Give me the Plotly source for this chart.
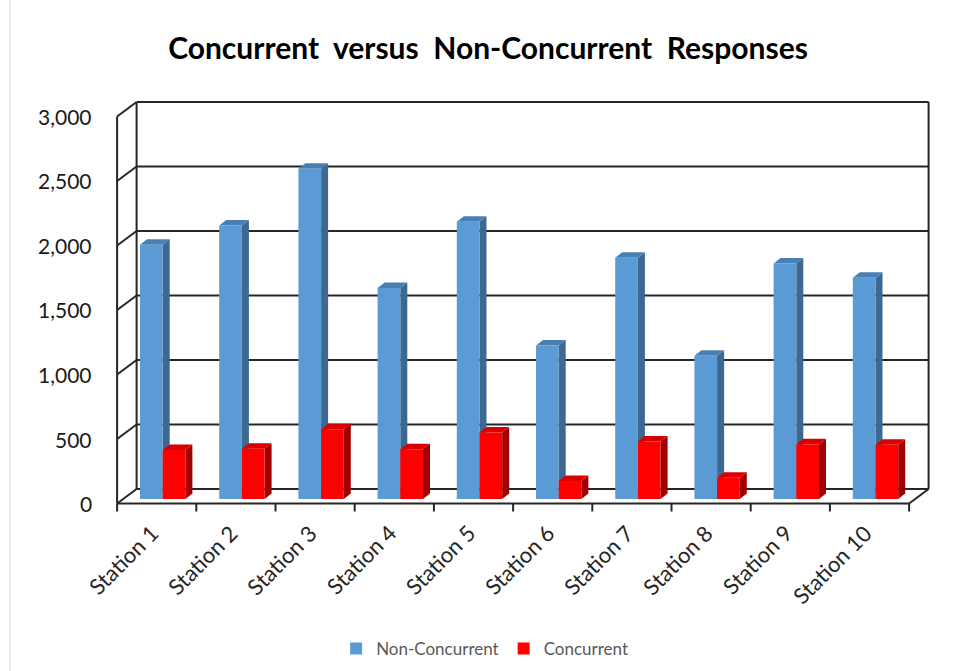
import plotly.graph_objects as go

# ---- data -------------------------------------------------------------
stations = ["Station 1", "Station 2", "Station 3", "Station 4", "Station 5",
            "Station 6", "Station 7", "Station 8", "Station 9", "Station 10"]
non_concurrent = [1970, 2120, 2560, 1635, 2150, 1190, 1870, 1110, 1825, 1715]
concurrent = [380, 390, 540, 385, 515, 140, 445, 165, 425, 420]
y_ticks = [0, 500, 1000, 1500, 2000, 2500, 3000]
y_tick_labels = ["0", "500", "1,000", "1,500", "2,000", "2,500", "3,000"]

# ---- geometry of the pseudo-3D box ------------------------------------
W, H = 954, 671
CAT_PX = 79.2        # pixels per category step in the bar plane
VAL_PX = 0.129       # pixels per unit of value
X0_PX = 162.7        # pixel x of the first category centre
Y0_PX = 499.0        # pixel y of value 0 in the bar plane
X_RANGE = [-1.0, 9.9]
Y_RANGE = [-150, 3150]
BARGAP = 0.427
N = len(stations)


def to_dx(px):
    return px / CAT_PX


def to_dy(px):
    return -px / VAL_PX


# offsets (pixels) of the back wall, front edge and bar depth from the bar plane
back_dx, back_dy = to_dx(13.5), to_dy(-10.0)
front_dx, front_dy = to_dx(-6.0), to_dy(4.5)
depth_dx, depth_dy = to_dx(7.0), to_dy(-5.5)

x_domain = [(X0_PX + CAT_PX * X_RANGE[0]) / W, (X0_PX + CAT_PX * X_RANGE[1]) / W]
y_domain = [(H - (Y0_PX - VAL_PX * Y_RANGE[0])) / H, (H - (Y0_PX - VAL_PX * Y_RANGE[1])) / H]

BLUE, BLUE_SIDE, BLUE_TOP = "#5B9BD5", "#3C6891", "#4A7FB3"
RED, RED_SIDE, RED_TOP = "#FF0000", "#A00000", "#D80000"
LINE = "#262626"
idx = list(range(N))

fig = go.Figure()
fig.add_trace(go.Bar(x=idx, y=non_concurrent, name="Non-Concurrent",
                     marker=dict(color=BLUE, line=dict(width=0)),
                     hovertext=stations))
fig.add_trace(go.Bar(x=idx, y=concurrent, name="Concurrent",
                     marker=dict(color=RED, line=dict(width=0)),
                     hovertext=stations))

shapes = []


def line(x0, y0, x1, y1, width=2, color=LINE, layer="below"):
    shapes.append(dict(type="line", xref="x", yref="y", x0=x0, y0=y0, x1=x1, y1=y1,
                       line=dict(color=color, width=width), layer=layer))


left_b, right_b = -0.5, N - 0.5
# back wall gridlines and the diagonal side-wall lines
for g in y_ticks:
    line(left_b + back_dx, g + back_dy, right_b + back_dx, g + back_dy)
    line(left_b + front_dx, g + front_dy, left_b + back_dx, g + back_dy)
# vertical edges of the box
line(left_b + back_dx, y_ticks[0] + back_dy, left_b + back_dx, y_ticks[-1] + back_dy)
line(right_b + back_dx, y_ticks[0] + back_dy, right_b + back_dx, y_ticks[-1] + back_dy)
line(left_b + front_dx, y_ticks[0] + front_dy, left_b + front_dx, y_ticks[-1] + front_dy)
# floor: front edge and right diagonal
line(left_b + front_dx, front_dy, right_b + front_dx, front_dy)
line(right_b + front_dx, front_dy, right_b + back_dx, back_dy)
# category ticks on the front edge
tick_len = to_dy(8)
for k in range(N + 1):
    xb = k - 0.5 + front_dx
    line(xb, front_dy, xb, front_dy + tick_len)

# side and top faces of each bar
half = (1 - BARGAP) / 2


def faces(xl, xr, v, side, top):
    side_path = (f"M{xr},0 L{xr + depth_dx},{depth_dy} L{xr + depth_dx},{v + depth_dy} "
                 f"L{xr},{v} Z")
    top_path = (f"M{xl},{v} L{xr},{v} L{xr + depth_dx},{v + depth_dy} "
                f"L{xl + depth_dx},{v + depth_dy} Z")
    for p, c in ((side_path, side), (top_path, top)):
        shapes.append(dict(type="path", xref="x", yref="y", path=p, fillcolor=c,
                           line=dict(width=0), layer="between"))


for k in range(N):
    faces(k - half, k, non_concurrent[k], BLUE_SIDE, BLUE_TOP)
for k in range(N):
    faces(k, k + half, concurrent[k], RED_SIDE, RED_TOP)

# thin border on the left side of the chart area
shapes.append(dict(type="line", xref="paper", yref="paper", x0=10 / W, x1=10 / W, y0=0, y1=1,
                   line=dict(color="#D9D9D9", width=1), layer="below"))

annotations = []
FONT = "Lato"
for g, lab in zip(y_ticks, y_tick_labels):
    annotations.append(dict(x=left_b + front_dx, y=g + front_dy, xref="x", yref="y",
                            text=lab, showarrow=False, xanchor="right", yanchor="middle",
                            xshift=-23, font=dict(family=FONT, size=21, color="#1A1A1A")))
for k, name in enumerate(stations):
    annotations.append(dict(x=k + front_dx, y=front_dy, xref="x", yref="y",
                            text=name, showarrow=False, textangle=-45,
                            xanchor="right", yanchor="top", xshift=10, yshift=-13,
                            font=dict(family=FONT, size=22, color="#262626")))

fig.update_layout(
    width=W, height=H, autosize=False,
    margin=dict(l=0, r=0, t=0, b=0),
    paper_bgcolor="white", plot_bgcolor="white",
    barmode="group", bargap=BARGAP, bargroupgap=0,
    title=dict(text="Concurrent  versus  Non-Concurrent  Responses",
               x=488 / W, y=1 - 48 / H, xanchor="center", yanchor="middle",
               font=dict(family=FONT, size=30, color="#000000", weight="bold")),
    xaxis=dict(range=X_RANGE, domain=x_domain, visible=False, fixedrange=True),
    yaxis=dict(range=Y_RANGE, domain=y_domain, visible=False, fixedrange=True),
    showlegend=True,
    legend=dict(orientation="h", x=0.508, y=(H - 649) / H, xanchor="center",
                yanchor="middle", font=dict(family=FONT, size=17, color="#595959"),
                bgcolor="rgba(0,0,0,0)"),
    shapes=shapes, annotations=annotations,
)

fig.write_html("out.html")
